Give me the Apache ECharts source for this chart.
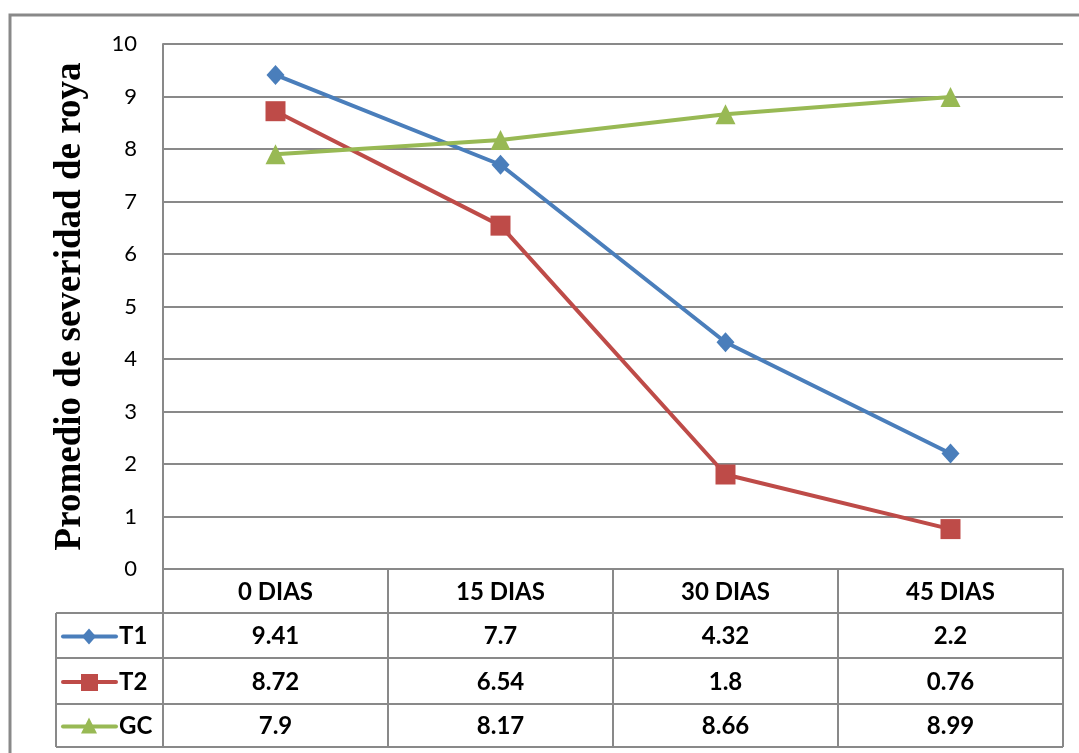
<!DOCTYPE html>
<html>
<head>
<meta charset="utf-8">
<script src="https://cdn.jsdelivr.net/npm/echarts@6/dist/echarts.min.js"></script>
<style>
html,body{margin:0;padding:0;background:#fff;}
#c{width:1079px;height:753px;}
</style>
</head>
<body>
<div id="c"></div>
<script>
var categories = ['0 DIAS', '15 DIAS', '30 DIAS', '45 DIAS'];
var seriesNames = ['T1', 'T2', 'GC'];
var t1 = [9.41, 7.7, 4.32, 2.2];
var t2 = [8.72, 6.54, 1.8, 0.76];
var gc = [7.9, 8.17, 8.66, 8.99];
var tableLabels = {
  T1: ['9.41', '7.7', '4.32', '2.2'],
  T2: ['8.72', '6.54', '1.8', '0.76'],
  GC: ['7.9', '8.17', '8.66', '8.99']
};
var yTicks = [0, 10, 1];
var yTitle = 'Promedio de severidad de roya';

var colors = {T1: '#4A7EBB', T2: '#BE4B48', GC: '#98B954'};
var symbols = {T1: 'diamond', T2: 'rect', GC: 'triangle'};
var symSizes = {T1: [18, 20], T2: 20, GC: 20};
var gray = '#898989';

var chart = echarts.init(document.getElementById('c'), null, {renderer: 'canvas'});

var dataMap = {T1: t1, T2: t2, GC: gc};
var series = seriesNames.map(function (n) {
  return {
    name: n,
    type: 'line',
    data: dataMap[n],
    symbol: symbols[n],
    symbolSize: symSizes[n],
    showAllSymbol: true,
    lineStyle: {color: colors[n], width: 4},
    itemStyle: {color: colors[n], borderWidth: 0},
    z: 5
  };
});

chart.setOption({
  animation: false,
  backgroundColor: '#fff',
  grid: {left: 163, right: 16, top: 44, bottom: 184, containLabel: false},
  xAxis: {
    type: 'category',
    data: categories,
    boundaryGap: true,
    axisLine: {show: true, lineStyle: {color: gray, width: 2}},
    axisTick: {show: false},
    axisLabel: {show: false},
    splitLine: {show: false}
  },
  yAxis: {
    type: 'value',
    min: yTicks[0], max: yTicks[1], interval: yTicks[2],
    axisLine: {show: true, lineStyle: {color: gray, width: 2}},
    axisTick: {show: false},
    axisLabel: {color: '#000', fontFamily: 'Lato', fontSize: 22, margin: 26},
    splitLine: {show: true, lineStyle: {color: gray, width: 2}},
    name: yTitle,
    nameLocation: 'middle',
    nameGap: 74,
    nameRotate: 90,
    nameTextStyle: {color: '#000', fontFamily: 'Liberation Serif', fontWeight: 'bold', fontSize: 37}
  },
  series: series
});

function buildTable() {
  var g = [];
  var centers = categories.map(function (c) { return chart.convertToPixel({xAxisIndex: 0}, c); });
  var band = centers[1] - centers[0];
  var x0 = centers[0] - band / 2;
  var xEnd = centers[centers.length - 1] + band / 2;
  var yAxis0 = chart.convertToPixel({yAxisIndex: 0}, 0);
  var rowH = [44, 45, 46, 43];
  var rowsY = [yAxis0];
  rowH.forEach(function (h, i) { rowsY.push(rowsY[i] + h); });
  var leftX = 56;
  var ls = {stroke: gray, lineWidth: 2};
  g.push({type: 'polyline', shape: {points: [[10, 760], [10, 15], [1090, 15]]}, style: {stroke: gray, lineWidth: 3, fill: null}, silent: true});
  for (var r = 1; r < rowsY.length; r++) {
    g.push({type: 'line', shape: {x1: leftX, y1: rowsY[r], x2: xEnd, y2: rowsY[r]}, style: ls, silent: true});
  }
  g.push({type: 'line', shape: {x1: leftX, y1: rowsY[1], x2: leftX, y2: rowsY[4]}, style: ls, silent: true});
  for (var i = 0; i <= categories.length; i++) {
    var x = x0 + band * i;
    g.push({type: 'line', shape: {x1: x, y1: rowsY[0], x2: x, y2: rowsY[4]}, style: ls, silent: true});
  }
  var tf = {fontFamily: 'Lato', fontWeight: 'bold', fontSize: 24, fill: '#000', align: 'center', verticalAlign: 'middle'};
  categories.forEach(function (c, i) {
    g.push({type: 'text', x: centers[i], y: (rowsY[0] + rowsY[1]) / 2 + 1, style: Object.assign({text: c}, tf), silent: true});
  });
  seriesNames.forEach(function (n, r) {
    var cy = (rowsY[r + 1] + rowsY[r + 2]) / 2 + 1;
    tableLabels[n].forEach(function (t, i) {
      g.push({type: 'text', x: centers[i], y: cy, style: Object.assign({text: t}, tf), silent: true});
    });
    g.push({type: 'line', shape: {x1: 63, y1: cy, x2: 116, y2: cy}, style: {stroke: colors[n], lineWidth: 4, lineCap: 'round'}, silent: true});
    var mx = 89;
    if (n === 'T1') {
      g.push({type: 'polygon', shape: {points: [[mx, cy - 8], [mx + 7, cy], [mx, cy + 8], [mx - 7, cy]]}, style: {fill: colors[n]}, silent: true});
    } else if (n === 'T2') {
      g.push({type: 'rect', shape: {x: mx - 8, y: cy - 8, width: 17, height: 17}, style: {fill: colors[n]}, silent: true});
    } else {
      g.push({type: 'polygon', shape: {points: [[mx, cy - 9], [mx + 8, cy + 7], [mx - 8, cy + 7]]}, style: {fill: colors[n]}, silent: true});
    }
    g.push({type: 'text', x: 119, y: cy, style: {text: n, fontFamily: 'Lato', fontWeight: 'bold', fontSize: 24, fill: '#000', align: 'left', verticalAlign: 'middle'}, silent: true});
  });
  chart.setOption({graphic: {elements: g}});
}
buildTable();
</script>
</body>
</html>
